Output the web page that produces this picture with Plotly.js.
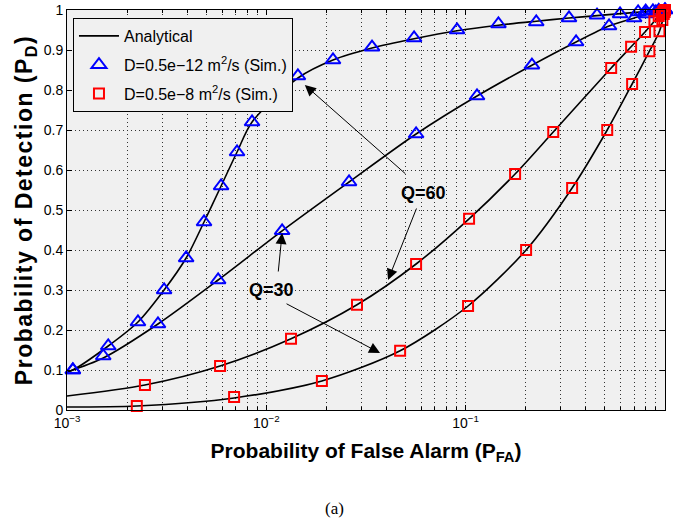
<!DOCTYPE html>
<html>
<head>
<meta charset="utf-8">
<script src="https://cdn.plot.ly/plotly-3.0.1.min.js"></script>
<style>
html,body{margin:0;padding:0;background:#fff;}
#chart{width:673px;height:522px;}
.g-ytitle text{letter-spacing:1.5px;}
</style>
</head>
<body>
<div id="chart"></div>
<script>
// Analytical curves
const anaB1x = [0.001, 0.00107, 0.00161, 0.00227, 0.00307, 0.00396, 0.00487, 0.00593, 0.00713, 0.00848, 0.0144, 0.0216, 0.0339, 0.0551, 0.0905, 0.146, 0.226, 0.33, 0.456, 0.6, 0.8, 1];
const anaB1y = [0.095, 0.1, 0.16, 0.22, 0.30, 0.38, 0.47, 0.56, 0.645, 0.72, 0.83, 0.875, 0.905, 0.928, 0.948, 0.962, 0.972, 0.98, 0.986, 0.991, 0.996, 1];
const anaB2x = [0.001, 0.00152, 0.00286, 0.00573, 0.012, 0.026, 0.0564, 0.114, 0.215, 0.358, 0.524, 0.7, 1];
const anaB2y = [0.095, 0.13, 0.215, 0.325, 0.448, 0.57, 0.69, 0.785, 0.862, 0.92, 0.96, 0.98, 1];
const anaR1x = [0.001, 0.00246, 0.00586, 0.0133, 0.0285, 0.0564, 0.104, 0.177, 0.275, 0.537, 0.676, 0.794, 0.885, 1];
const anaR1y = [0.035, 0.0625, 0.11, 0.178, 0.263, 0.365, 0.478, 0.59, 0.695, 0.855, 0.908, 0.945, 0.972, 1];
const anaR2x = [0.001, 0.00224, 0.00689, 0.019, 0.0469, 0.1028, 0.201, 0.342, 0.513, 0.684, 0.835, 0.938, 1];
const anaR2y = [0.0075, 0.01, 0.03, 0.0725, 0.148, 0.26, 0.40, 0.555, 0.70, 0.815, 0.897, 0.947, 1];

// Simulated points, D=0.5e-12 (blue triangles)
const simB1x = [0.00107, 0.00161, 0.00227, 0.00307, 0.00396, 0.00487, 0.00593, 0.00713, 0.00848, 0.0144, 0.0216, 0.0339, 0.0551, 0.0905, 0.146, 0.226, 0.33, 0.456, 0.595, 0.733, 0.8, 0.87, 0.93, 1];
const simB1y = [0.1, 0.16, 0.22, 0.30, 0.38, 0.47, 0.56, 0.645, 0.72, 0.835, 0.875, 0.907, 0.93, 0.95, 0.965, 0.97, 0.98, 0.987, 0.99, 0.995, 0.997, 0.998, 0.999, 1];
const simB2x = [0.00107, 0.00152, 0.00286, 0.00573, 0.012, 0.026, 0.0564, 0.114, 0.215, 0.358, 0.524, 0.7, 0.8, 0.9, 1];
const simB2y = [0.1, 0.135, 0.215, 0.325, 0.448, 0.57, 0.69, 0.785, 0.862, 0.92, 0.96, 0.98, 0.99, 0.995, 1];
// Simulated points, D=0.5e-8 (red squares)
const simR1x = [0.00246, 0.00586, 0.0133, 0.0285, 0.0564, 0.104, 0.177, 0.275, 0.537, 0.676, 0.794, 0.885, 0.93, 0.96, 0.98, 0.99, 1];
const simR1y = [0.0625, 0.11, 0.178, 0.263, 0.365, 0.478, 0.59, 0.695, 0.855, 0.908, 0.945, 0.972, 0.985, 0.99, 0.995, 0.998, 1];
const simR2x = [0.00224, 0.00689, 0.019, 0.0469, 0.1028, 0.201, 0.342, 0.513, 0.684, 0.835, 0.938, 0.97, 0.985, 0.995, 1];
const simR2y = [0.01, 0.0325, 0.0725, 0.148, 0.26, 0.40, 0.555, 0.70, 0.815, 0.897, 0.947, 0.975, 0.99, 0.995, 1];

const xTickVals = [0.001, 0.01, 0.1, 1];
const xTickText = ['10<sup>−3</sup>', '10<sup>−2</sup>', '10<sup>−1</sup>', '10<sup>0</sup>'];
const xMinorVals = [0.002, 0.003, 0.004, 0.005, 0.006, 0.007, 0.008, 0.009,
                    0.02, 0.03, 0.04, 0.05, 0.06, 0.07, 0.08, 0.09,
                    0.2, 0.3, 0.4, 0.5, 0.6, 0.7, 0.8, 0.9];
const yTickVals = [0, 0.1, 0.2, 0.3, 0.4, 0.5, 0.6, 0.7, 0.8, 0.9, 1];
const yTickText = ['0', '0.1', '0.2', '0.3', '0.4', '0.5', '0.6', '0.7', '0.8', '0.9', '1'];

const lineStyle = {color: '#000', width: 1.6, shape: 'spline', smoothing: 0.8};
const triMarker = {symbol: 'triangle-up-open', size: 13, color: '#0000ff', line: {color: '#0000ff', width: 2}};
const sqMarker = {symbol: 'square-open', size: 10, color: '#ff0000', line: {color: '#ff0000', width: 2}};

const traces = [
  {x: anaB1x, y: anaB1y, mode: 'lines', line: lineStyle, name: 'Analytical', legendgroup: 'a', showlegend: true},
  {x: anaB2x, y: anaB2y, mode: 'lines', line: lineStyle, showlegend: false},
  {x: anaR1x, y: anaR1y, mode: 'lines', line: lineStyle, showlegend: false},
  {x: anaR2x, y: anaR2y, mode: 'lines', line: lineStyle, showlegend: false},
  {x: simB1x, y: simB1y, mode: 'markers', marker: triMarker, name: 'D=0.5e−12 m<sup>2</sup>/s (Sim.)', legendgroup: 'b', cliponaxis: false},
  {x: simB2x, y: simB2y, mode: 'markers', marker: triMarker, showlegend: false, cliponaxis: false},
  {x: simR1x, y: simR1y, mode: 'markers', marker: sqMarker, name: 'D=0.5e−8 m<sup>2</sup>/s (Sim.)', legendgroup: 'c', cliponaxis: false},
  {x: simR2x, y: simR2y, mode: 'markers', marker: sqMarker, showlegend: false, cliponaxis: false}
];

function lx(v){ return Math.log10(v); }

const arrowBase = {showarrow: true, arrowhead: 2, arrowsize: 2.2, arrowwidth: 1, arrowcolor: '#000', text: '', xref: 'x', yref: 'y'};
const gridDash = '1px,3px';

const layout = {
  width: 673, height: 522,
  margin: {l: 67, r: 8, t: 10, b: 112},
  paper_bgcolor: '#ffffff',
  plot_bgcolor: '#f0f0f0',
  font: {family: 'Liberation Sans, Arial, sans-serif', color: '#000', size: 14},
  showlegend: true,
  legend: {
    x: 0.01, y: 0.98, xanchor: 'left', yanchor: 'top',
    bgcolor: '#f0f0f0', bordercolor: '#000', borderwidth: 1,
    font: {size: 16, family: 'Liberation Sans, Arial, sans-serif'},
    itemwidth: 40, tracegroupgap: 5
  },
  xaxis: {
    type: 'log', range: [-3, 0],
    tickvals: xTickVals, ticktext: xTickText,
    ticks: 'inside', ticklen: 5, tickcolor: '#000',
    showline: true, linecolor: '#000', linewidth: 1, mirror: 'ticks',
    showgrid: true, gridcolor: '#333', gridwidth: 1, griddash: gridDash,
    zeroline: false,
    tickfont: {size: 14},
    minor: {tickvals: xMinorVals, ticks: 'inside', ticklen: 3, tickcolor: '#000', showgrid: true, gridcolor: '#333', griddash: gridDash, gridwidth: 1},
    title: {text: '<b>Probability of False Alarm (P<sub>FA</sub>)</b>', font: {size: 21}, standoff: 13}
  },
  yaxis: {
    range: [0, 1],
    tickvals: yTickVals, ticktext: yTickText,
    ticks: 'inside', ticklen: 5, tickcolor: '#000',
    showline: true, linecolor: '#000', linewidth: 1, mirror: 'ticks',
    showgrid: true, gridcolor: '#333', gridwidth: 1, griddash: gridDash,
    zeroline: false,
    tickfont: {size: 14},
    title: {text: '<b>Probability of Detection (P<sub>D</sub>)</b>', font: {size: 23}, standoff: 4}
  },
  annotations: [
    Object.assign({}, arrowBase, {x: lx(0.0156), y: 0.8125, ax: 102, ay: 90}),
    Object.assign({}, arrowBase, {x: lx(0.0408), y: 0.325, ax: 29, ay: -73}),
    Object.assign({}, arrowBase, {x: lx(0.0120), y: 0.4425, ax: -4, ay: 40}),
    Object.assign({}, arrowBase, {x: lx(0.0372), y: 0.1425, ax: -95, ay: -50}),
    {text: '<b>Q=60</b>', x: lx(0.0611), y: 0.5425, xref: 'x', yref: 'y', showarrow: false, font: {size: 18}},
    {text: '<b>Q=30</b>', x: lx(0.01057), y: 0.30, xref: 'x', yref: 'y', showarrow: false, font: {size: 18}},
    {text: '(a)', x: 0.448, y: -0.245, xref: 'paper', yref: 'paper', yanchor: 'middle', showarrow: false, font: {size: 17, family: 'Liberation Serif, Times New Roman, serif'}}
  ]
};

Plotly.newPlot('chart', traces, layout, {displayModeBar: false, staticPlot: true});
</script>
</body>
</html>
